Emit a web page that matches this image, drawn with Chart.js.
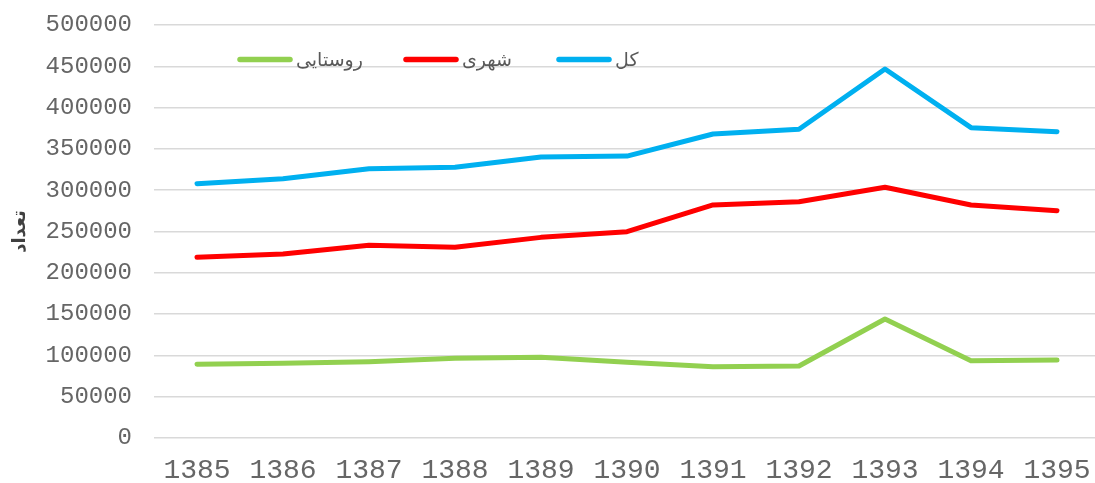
<!DOCTYPE html>
<html>
<head>
<meta charset="utf-8">
<script src="https://cdn.jsdelivr.net/npm/chart.js@4"></script>
<style>
html,body{margin:0;padding:0;background:#fff;overflow:hidden;}
#wrap{width:1100px;height:483px;}
</style>
</head>
<body>
<div id="wrap"><canvas id="c" width="1100" height="483"></canvas></div>
<script>
const years = ['1385','1386','1387','1388','1389','1390','1391','1392','1393','1394','1395'];
const rural = [89200, 90400, 92400, 96500, 97700, 91600, 86300, 87200, 144100, 93600, 94400];
const urban = [218700, 222800, 233300, 230900, 242900, 249800, 282100, 286100, 303500, 282100, 275200];
const total = [307900, 313900, 326000, 327700, 340100, 341300, 368000, 373700, 446700, 375700, 370800];
const seriesNames = ['روستایی', 'شهری', 'کل'];
const seriesColors = ['#92D050', '#FF0000', '#00B0F0'];
const yAxisTitle = 'تعداد';

const legendPlugin = {
  id: 'customLegend',
  afterDraw(chart) {
    const ctx = chart.ctx;
    const starts = [237, 403, 556];
    const y = 59.5;
    ctx.save();
    chart.data.datasets.forEach((ds, i) => {
      const x = starts[i];
      ctx.strokeStyle = ds.borderColor;
      ctx.lineWidth = 5.5;
      ctx.lineCap = 'round';
      ctx.beginPath();
      ctx.moveTo(x + 3, y);
      ctx.lineTo(x + 53, y);
      ctx.stroke();
      ctx.fillStyle = '#595959';
      ctx.font = '19px "DejaVu Sans"';
      ctx.textBaseline = 'middle';
      ctx.textAlign = 'left';
      ctx.fillText(ds.label, x + 59, y + 2);
    });
    ctx.restore();
  }
};

const mk = (label, data, color) => ({
  label, data,
  borderColor: color, backgroundColor: color,
  borderWidth: 5, pointRadius: 0, pointHoverRadius: 0,
  tension: 0, borderCapStyle: 'round', borderJoinStyle: 'round', fill: false
});

new Chart(document.getElementById('c'), {
  type: 'line',
  data: {
    labels: years,
    datasets: [
      mk(seriesNames[0], rural, seriesColors[0]),
      mk(seriesNames[1], urban, seriesColors[1]),
      mk(seriesNames[2], total, seriesColors[2])
    ]
  },
  options: {
    responsive: false,
    animation: false,
    devicePixelRatio: 1,
    layout: { padding: { top: 25, right: 0, bottom: 0, left: 0 } },
    plugins: { legend: { display: false }, tooltip: { enabled: false } },
    scales: {
      x: {
        offset: true,
        grid: { display: false, drawTicks: false },
        border: { display: false },
        ticks: { color: '#666666', font: { family: 'Liberation Mono', size: 28 }, padding: 16, maxRotation: 0 },
        afterFit(s) { s.height = 45; s.paddingLeft = 0; s.paddingRight = 0; }
      },
      y: {
        min: 0, max: 500000,
        grid: { color: '#d9d9d9', lineWidth: 1.5, drawTicks: false },
        border: { display: false },
        ticks: { stepSize: 50000, color: '#666666', font: { family: 'Liberation Mono', size: 24 }, padding: 22,
                 callback: (v) => String(v) },
        title: { display: true, text: yAxisTitle, color: '#404040', font: { family: 'DejaVu Sans', size: 18, weight: 'bold' }, padding: { top: 10, bottom: 0 } },
        afterFit(s) { s.width = 154; s.paddingTop = 10; s.paddingBottom = 10; }
      }
    }
  },
  plugins: [legendPlugin]
});
</script>
</body>
</html>
